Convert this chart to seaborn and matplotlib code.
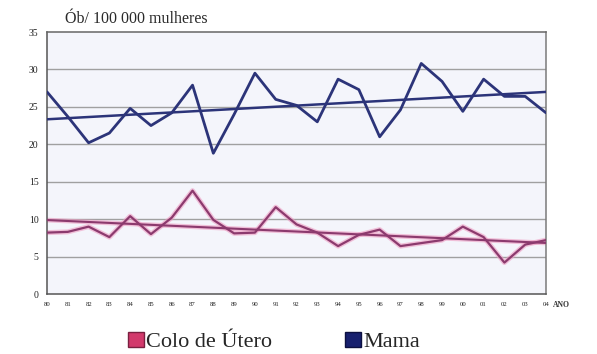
import matplotlib
matplotlib.use("Agg")
import matplotlib.pyplot as plt
from matplotlib.patches import Patch
import numpy as np
import pandas as pd
import seaborn as sns

# Mortality per 100 000 women, 1980-2004
anos = ["80", "81", "82", "83", "84", "85", "86", "87", "88", "89", "90", "91", "92",
        "93", "94", "95", "96", "97", "98", "99", "00", "01", "02", "03", "04"]
mama = [27.0, 23.7, 20.2, 21.5, 24.8, 22.5, 24.2, 27.9, 18.8, 24.0, 29.5, 26.0, 25.2,
        23.0, 28.7, 27.3, 21.0, 24.6, 30.8, 28.4, 24.4, 28.7, 26.4, 26.4, 24.2]
colo_utero = [8.2, 8.3, 9.0, 7.6, 10.4, 8.0, 10.2, 13.8, 9.9, 8.1, 8.2, 11.6, 9.3,
              8.2, 6.4, 7.9, 8.6, 6.4, 6.8, 7.2, 9.0, 7.6, 4.2, 6.6, 7.2]
y_ticks = [0, 5, 10, 15, 20, 25, 30, 35]

df = pd.DataFrame({"i": np.arange(len(anos)), "Mama": mama, "Colo de Útero": colo_utero})

sns.set_theme(style="white")
plt.rcParams["font.family"] = ["Liberation Serif", "DejaVu Serif"]

c_mama = "#2c3479"
c_colo = "#8c3a6e"
c_colo_glow = "#ee9cc2"
c_leg_colo = "#d23a6c"
c_leg_mama = "#17206e"

fig = plt.figure(figsize=(5.97, 3.54), dpi=100)
ax = fig.add_axes([47 / 597, 1 - 294 / 354, (546 - 47) / 597, (294 - 32) / 354])
ax.set_facecolor("#f4f5fb")

for y in y_ticks[1:-1]:
    ax.axhline(y, color="#a0a0a0", lw=1.0, zorder=1)

# Colo de Útero: pink halo under a dark line, plus linear trend
sns.lineplot(data=df, x="i", y="Colo de Útero", ax=ax, color=c_colo_glow, lw=3.6, alpha=0.6, zorder=2)
sns.regplot(data=df, x="i", y="Colo de Útero", ax=ax, scatter=False, ci=None, truncate=True,
            line_kws={"color": c_colo_glow, "lw": 3.4, "alpha": 0.6, "zorder": 2})
sns.lineplot(data=df, x="i", y="Colo de Útero", ax=ax, color=c_colo, lw=1.6, zorder=3)
sns.regplot(data=df, x="i", y="Colo de Útero", ax=ax, scatter=False, ci=None, truncate=True,
            line_kws={"color": c_colo, "lw": 1.5, "zorder": 3})

# Mama: data line and linear trend
sns.lineplot(data=df, x="i", y="Mama", ax=ax, color=c_mama, lw=2.0, zorder=4)
sns.regplot(data=df, x="i", y="Mama", ax=ax, scatter=False, ci=None, truncate=True,
            line_kws={"color": c_mama, "lw": 1.8, "zorder": 4})

ax.set_xlim(0, len(anos) - 1)
ax.set_ylim(0, 35)
ax.set_xticks(df["i"])
ax.set_xticklabels(anos, fontsize=4.8, color="#222222")
ax.set_yticks(y_ticks)
ax.set_yticklabels([str(v) for v in y_ticks], fontsize=7, color="#222222")
ax.set_xlabel("")
ax.set_ylabel("")
ax.tick_params(axis="x", direction="inout", length=5, width=0.9, color="#555555", pad=3)
ax.tick_params(axis="y", direction="inout", length=8, width=0.9, color="#555555", pad=2)

for side in ["left", "bottom"]:
    ax.spines[side].set_color("#555555")
    ax.spines[side].set_linewidth(1.1)
for side in ["top", "right"]:
    ax.spines[side].set_color("#7a7a7a")
    ax.spines[side].set_linewidth(1.1)
ax.spines["top"].set_color("#666666")

fig.text(65 / 597, 1 - 19 / 354, "Ób/ 100 000 mulheres", fontsize=11.5, color="#2a2a2a",
         va="center", ha="left")
fig.text(553 / 597, 1 - 305 / 354, "ANO", fontsize=5.5, fontweight="bold", color="#333333",
         va="center", ha="left")

handles = [Patch(facecolor=c_leg_colo, edgecolor="#7a2040", label="Colo de Útero"),
           Patch(facecolor=c_leg_mama, edgecolor="#0c1040", label="Mama")]
fig.legend(handles=handles, loc="center", bbox_to_anchor=(274 / 597, 1 - 342 / 354), ncol=2,
           frameon=False, fontsize=16, handlelength=0.7, handleheight=0.7,
           handletextpad=0.1, columnspacing=3.3)

fig.savefig("out.png", dpi=100)
